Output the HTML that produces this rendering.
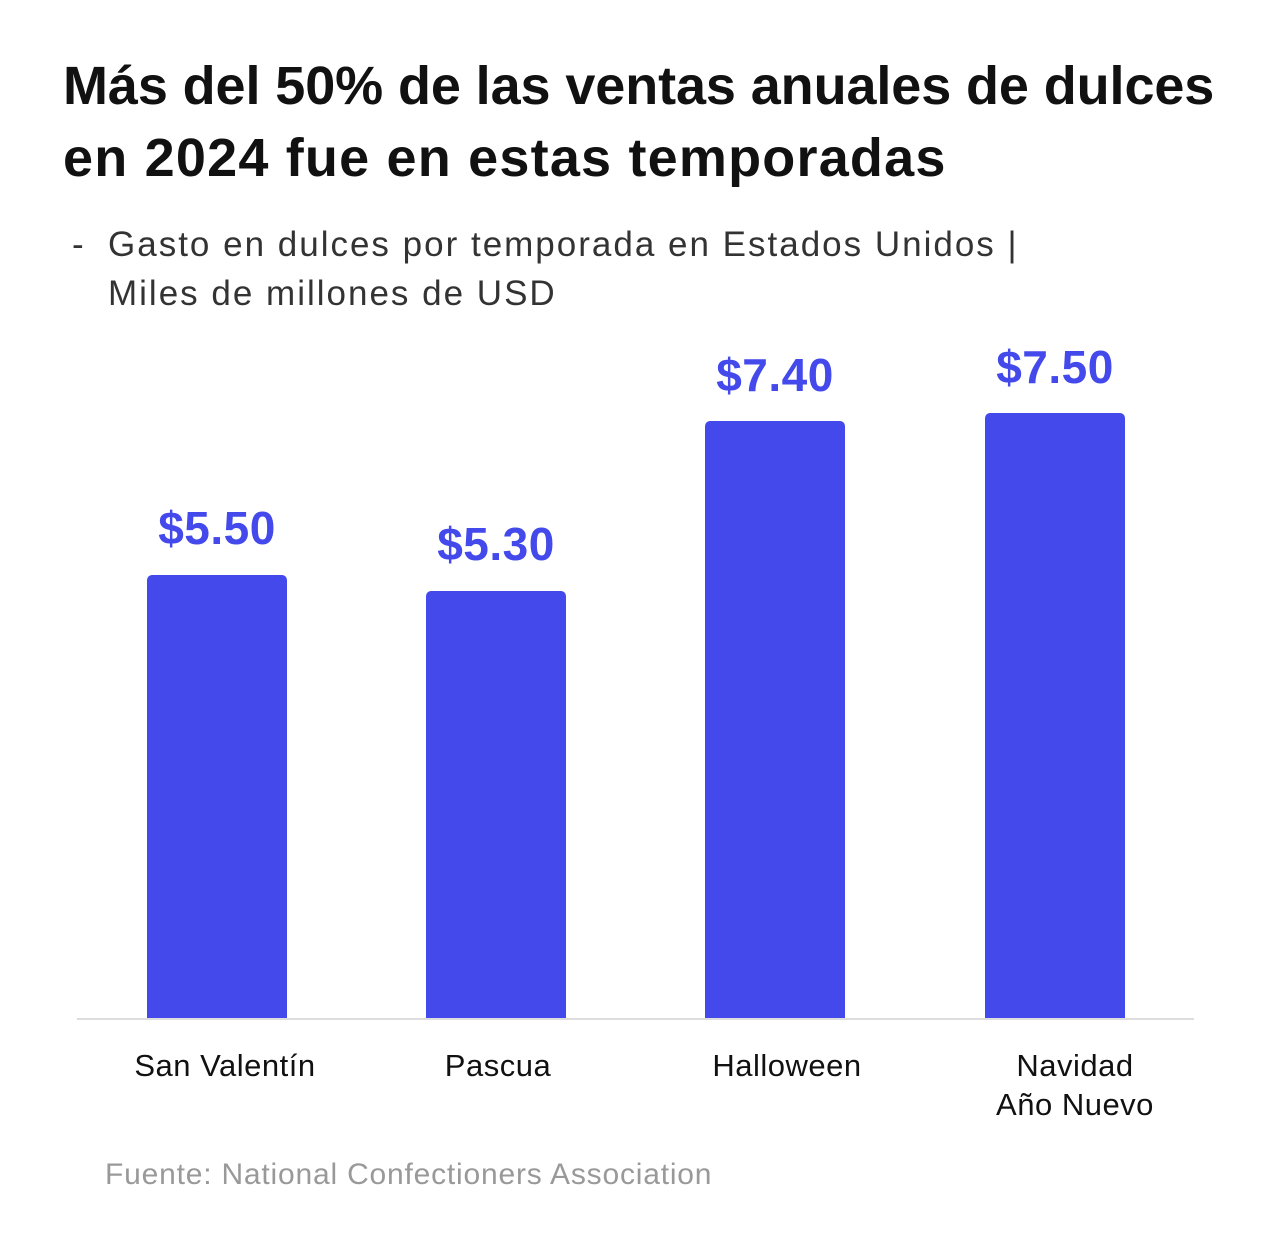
<!DOCTYPE html>
<html><head><meta charset="utf-8"><style>
body{margin:0;width:1281px;height:1258px;background:#fff;position:relative;font-family:"Liberation Sans",sans-serif;overflow:hidden}
.a{position:absolute;white-space:nowrap}
.t{left:63px;font-size:54px;font-weight:bold;color:#111}
.s{font-size:35px;color:#333;letter-spacing:2px}
.bar{position:absolute;width:140px;background:#4349EA;border-radius:5px 5px 0 0;bottom:240px}
.v{position:absolute;width:200px;text-align:center;font-size:46px;font-weight:bold;color:#4349EA;letter-spacing:0.5px}
.c{position:absolute;width:260px;text-align:center;font-size:31px;color:#111;line-height:39px;letter-spacing:0.5px}
</style></head><body>
<div class="a t" style="top:55px;letter-spacing:-0.1px">Más del 50% de las ventas anuales de dulces</div>
<div class="a t" style="top:127px;letter-spacing:1.2px">en 2024 fue en estas temporadas</div>
<div class="a s" style="left:72px;top:225px">-</div>
<div class="a s" style="left:108px;top:225px">Gasto en dulces por temporada en Estados Unidos |</div>
<div class="a s" style="left:108px;top:274px">Miles de millones de USD</div>
<div class="bar" style="left:147px;height:443px"></div>
<div class="bar" style="left:426px;height:427px"></div>
<div class="bar" style="left:705px;height:597px"></div>
<div class="bar" style="left:985px;height:605px"></div>
<div class="v" style="left:117px;top:501px">$5.50</div>
<div class="v" style="left:396px;top:517px">$5.30</div>
<div class="v" style="left:675px;top:348px">$7.40</div>
<div class="v" style="left:955px;top:340px">$7.50</div>
<div class="a" style="left:77px;top:1018px;width:1117px;height:2px;background:#ddd"></div>
<div class="c" style="left:95px;top:1046px">San Valentín</div>
<div class="c" style="left:368px;top:1046px">Pascua</div>
<div class="c" style="left:657px;top:1046px">Halloween</div>
<div class="c" style="left:945px;top:1046px">Navidad<br>Año Nuevo</div>
<div class="a" style="left:105px;top:1158px;font-size:30px;color:#999;letter-spacing:0.8px">Fuente: National Confectioners Association</div>
</body></html>
